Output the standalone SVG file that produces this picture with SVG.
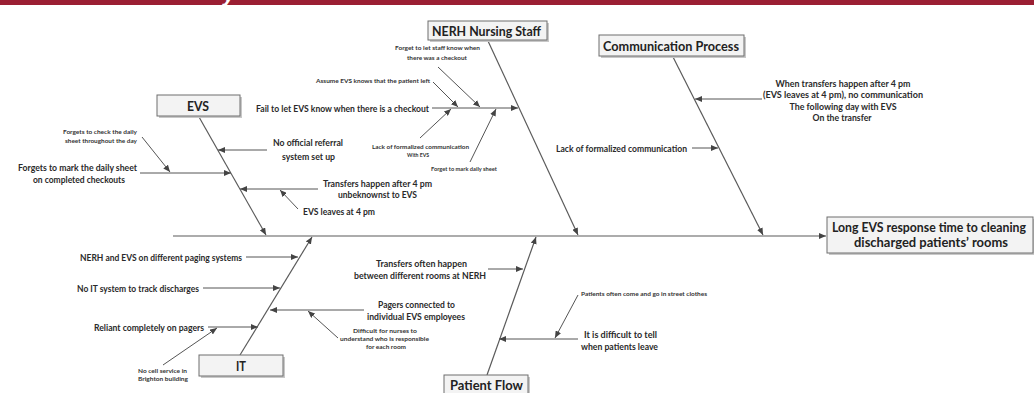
<svg xmlns="http://www.w3.org/2000/svg" width="1034" height="393" viewBox="0 0 1034 393">
<defs>
<style>
.bx{fill:#f3f3f3;stroke:#6e6e6e;stroke-width:1}
.sh{fill:#c8c8c8}
.bt{font-family:Lato,"Liberation Sans",sans-serif;font-weight:bold;fill:#222;font-size:14px}
.m{font-family:Lato,"Liberation Sans",sans-serif;font-weight:bold;fill:#2a2a2a;font-size:10px}
.s{font-family:Lato,"Liberation Sans",sans-serif;font-weight:bold;fill:#333;font-size:6px}
.ln{stroke:#555;stroke-width:1;fill:none;marker-end:url(#ah)}
.bn{stroke:#5a5a5a;stroke-width:1.2;fill:none;marker-end:url(#ah)}
</style>
<marker id="ah" markerUnits="userSpaceOnUse" markerWidth="7" markerHeight="6" refX="7" refY="3" orient="auto">
<path d="M0,0 L7,3 L0,6 z" fill="#444"/>
</marker>
</defs>
<rect x="0" y="0" width="1034" height="393" fill="#fff"/>
<rect x="0" y="0" width="1034" height="5" fill="#9b1f33"/>
<text x="223" y="1" font-family="Liberation Sans,sans-serif" font-style="italic" font-weight="bold" font-size="22" fill="#fff">y</text>

<g id="connectors">
<line class="bn" x1="173" y1="236" x2="826" y2="236"/>
<line class="bn" x1="199" y1="117" x2="266" y2="235"/>
<line class="bn" x1="488" y1="41" x2="578" y2="235"/>
<line class="bn" x1="673" y1="57" x2="763" y2="235"/>
<line class="bn" x1="240" y1="355" x2="312" y2="237"/>
<line class="bn" x1="487" y1="375" x2="536" y2="237"/>
<!-- EVS -->
<line class="ln" x1="267" y1="150" x2="218" y2="150"/>
<line class="ln" x1="140" y1="173" x2="231" y2="173"/>
<line class="ln" x1="142" y1="137" x2="170" y2="172"/>
<line class="ln" x1="318" y1="189" x2="240" y2="189"/>
<line class="ln" x1="298" y1="209" x2="280" y2="190"/>
<!-- NERH -->
<line class="ln" x1="432" y1="108" x2="518" y2="108"/>
<line class="ln" x1="438" y1="67" x2="480" y2="107"/>
<line class="ln" x1="433" y1="82" x2="458" y2="107"/>
<line class="ln" x1="420" y1="138" x2="451" y2="109"/>
<line class="ln" x1="470" y1="162" x2="496" y2="109"/>
<!-- Communication -->
<line class="ln" x1="762" y1="99" x2="695" y2="99"/>
<line class="ln" x1="692" y1="148" x2="718" y2="148"/>
<!-- IT -->
<line class="ln" x1="246" y1="257" x2="298" y2="257"/>
<line class="ln" x1="203" y1="288" x2="280" y2="288"/>
<line class="ln" x1="208" y1="327" x2="258" y2="327"/>
<line class="ln" x1="163" y1="365" x2="217" y2="328"/>
<line class="ln" x1="364" y1="310" x2="270" y2="310"/>
<line class="ln" x1="338" y1="338" x2="308" y2="311"/>
<!-- Patient flow -->
<line class="ln" x1="488" y1="269" x2="523" y2="269"/>
<line class="ln" x1="578" y1="339" x2="499" y2="339"/>
<line class="ln" x1="578" y1="295" x2="555" y2="338"/>
</g>

<g id="head">
<rect class="sh" x="829" y="219" width="205" height="36"/>
<rect class="bx" x="827" y="217" width="206" height="36"/>
<text class="bt" font-size="11.5" x="929" y="232" text-anchor="middle" textLength="194" lengthAdjust="spacingAndGlyphs">Long EVS response time to cleaning</text>
<text class="bt" font-size="11.5" x="931" y="247" text-anchor="middle" textLength="154" lengthAdjust="spacingAndGlyphs">discharged patients’ rooms</text>
</g>

<g id="evs">
<rect class="sh" x="159" y="97" width="83" height="21"/>
<rect class="bx" x="157" y="95" width="83" height="21"/>
<text class="bt" x="198" y="111" text-anchor="middle" textLength="22" lengthAdjust="spacingAndGlyphs">EVS</text>
</g>
<g id="nerh">
<rect class="sh" x="430" y="23" width="119" height="19"/>
<rect class="bx" x="428" y="21" width="119" height="19"/>
<text class="bt" font-size="13" x="432" y="35.5" textLength="109" lengthAdjust="spacingAndGlyphs">NERH Nursing Staff</text>
</g>
<g id="communication">
<rect class="sh" x="601" y="37" width="145" height="21"/>
<rect class="bx" x="599" y="35" width="145" height="21"/>
<text class="bt" font-size="13" x="603" y="50.5" textLength="136" lengthAdjust="spacingAndGlyphs">Communication Process</text>
</g>
<g id="it">
<rect class="sh" x="201" y="357" width="84" height="21"/>
<rect class="bx" x="199" y="355" width="84" height="21"/>
<text class="bt" x="241" y="371" text-anchor="middle" textLength="10" lengthAdjust="spacingAndGlyphs">IT</text>
</g>
<g id="patient-flow">
<rect class="sh" x="446" y="377" width="84" height="20"/>
<rect class="bx" x="444" y="375" width="84" height="20"/>
<text class="bt" x="450" y="390" textLength="73" lengthAdjust="spacingAndGlyphs">Patient Flow</text>
</g>

<g id="evs-causes">
<text class="m" x="18" y="170.5" textLength="119" lengthAdjust="spacingAndGlyphs">Forgets to mark the daily sheet</text>
<text class="m" x="33" y="182.5" textLength="92" lengthAdjust="spacingAndGlyphs">on completed checkouts</text>
<text class="s" x="63" y="134" textLength="74" lengthAdjust="spacingAndGlyphs">Forgets to check the daily</text>
<text class="s" x="65" y="143" textLength="72" lengthAdjust="spacingAndGlyphs">sheet throughout the day</text>
<text class="m" x="273" y="145.5" textLength="70" lengthAdjust="spacingAndGlyphs">No official referral</text>
<text class="m" x="282" y="159.5" textLength="53" lengthAdjust="spacingAndGlyphs">system set up</text>
<text class="m" x="323" y="186.5" textLength="109" lengthAdjust="spacingAndGlyphs">Transfers happen after 4 pm</text>
<text class="m" x="338" y="197.5" textLength="79" lengthAdjust="spacingAndGlyphs">unbeknownst to EVS</text>
<text class="m" x="303" y="214.5" textLength="72" lengthAdjust="spacingAndGlyphs">EVS leaves at 4 pm</text>
</g>

<g id="nerh-causes">
<text class="m" x="256" y="111.5" textLength="173" lengthAdjust="spacingAndGlyphs">Fail to let EVS know when there is a checkout</text>
<text class="s" x="395" y="50" textLength="85" lengthAdjust="spacingAndGlyphs">Forget to let staff know when</text>
<text class="s" x="407" y="60" textLength="60" lengthAdjust="spacingAndGlyphs">there was a checkout</text>
<text class="s" x="316" y="83" textLength="114" lengthAdjust="spacingAndGlyphs">Assume EVS knows that the patient left</text>
<text class="s" x="372" y="149" textLength="97" lengthAdjust="spacingAndGlyphs">Lack of formalized communication</text>
<text class="s" x="407" y="157" textLength="22" lengthAdjust="spacingAndGlyphs">With EVS</text>
<text class="s" x="431" y="171" textLength="66" lengthAdjust="spacingAndGlyphs">Forget to mark daily sheet</text>
</g>

<g id="communication-causes">
<text class="m" x="843" y="86.5" text-anchor="middle" textLength="135" lengthAdjust="spacingAndGlyphs">When transfers happen after 4 pm</text>
<text class="m" x="843" y="98" text-anchor="middle" textLength="160" lengthAdjust="spacingAndGlyphs">(EVS leaves at 4 pm), no communication</text>
<text class="m" x="843" y="109.5" text-anchor="middle" textLength="107" lengthAdjust="spacingAndGlyphs">The following day with EVS</text>
<text class="m" x="842" y="120.5" text-anchor="middle" textLength="59" lengthAdjust="spacingAndGlyphs">On the transfer</text>
<text class="m" x="556" y="151.5" textLength="131" lengthAdjust="spacingAndGlyphs">Lack of formalized communication</text>
</g>

<g id="it-causes">
<text class="m" x="80" y="260.5" textLength="162" lengthAdjust="spacingAndGlyphs">NERH and EVS on different paging systems</text>
<text class="m" x="77" y="291.5" textLength="122" lengthAdjust="spacingAndGlyphs">No IT system to track discharges</text>
<text class="m" x="94" y="330.5" textLength="110" lengthAdjust="spacingAndGlyphs">Reliant completely on pagers</text>
<text class="s" x="138" y="373" textLength="49" lengthAdjust="spacingAndGlyphs">No cell service in</text>
<text class="s" x="138" y="381" textLength="50" lengthAdjust="spacingAndGlyphs">Brighton building</text>
<text class="m" x="378" y="307.5" textLength="77" lengthAdjust="spacingAndGlyphs">Pagers connected to</text>
<text class="m" x="367" y="319.5" textLength="98" lengthAdjust="spacingAndGlyphs">individual EVS employees</text>
<text class="s" x="353" y="333" textLength="64" lengthAdjust="spacingAndGlyphs">Difficult for nurses to</text>
<text class="s" x="340" y="341" textLength="89" lengthAdjust="spacingAndGlyphs">understand who is responsible</text>
<text class="s" x="366" y="349" textLength="40" lengthAdjust="spacingAndGlyphs">for each room</text>
</g>

<g id="patient-flow-causes">
<text class="m" x="376" y="266.5" textLength="91" lengthAdjust="spacingAndGlyphs">Transfers often happen</text>
<text class="m" x="354" y="279" textLength="132" lengthAdjust="spacingAndGlyphs">between different rooms at NERH</text>
<text class="m" x="584" y="337.5" textLength="73" lengthAdjust="spacingAndGlyphs">It is difficult to tell</text>
<text class="m" x="581" y="349.5" textLength="77" lengthAdjust="spacingAndGlyphs">when patients leave</text>
<text class="s" x="581" y="296" textLength="126" lengthAdjust="spacingAndGlyphs">Patients often come and go in street clothes</text>
</g>
</svg>
